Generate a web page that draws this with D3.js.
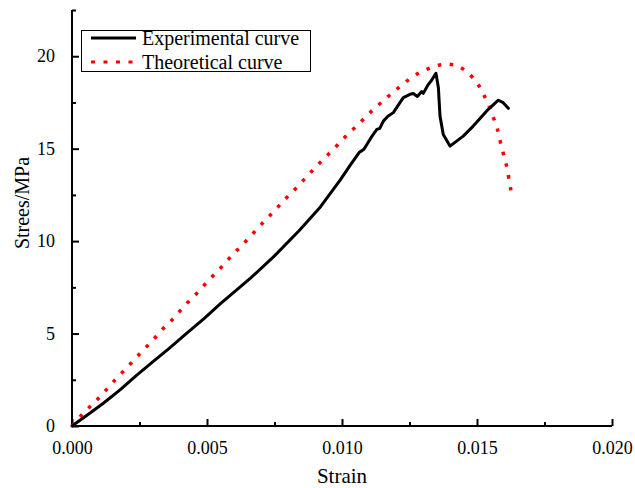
<!DOCTYPE html>
<html>
<head>
<meta charset="utf-8">
<script src="https://cdn.jsdelivr.net/npm/d3@7"></script>
<style>
  html, body { margin: 0; padding: 0; background: #fff; }
  svg { display: block; }
</style>
</head>
<body>
<svg id="chart" width="635" height="488"></svg>
<script>
// Measured stress–strain response of the specimen
const expStrain = [0, 0.00067, 0.00116, 0.00178, 0.00240, 0.00300, 0.00360, 0.00420, 0.00490,
  0.00550, 0.00660, 0.00750, 0.00840, 0.00920, 0.00993, 0.01030, 0.01064, 0.01080, 0.01091,
  0.01110, 0.01129, 0.01140, 0.01153, 0.01170, 0.01190, 0.01227, 0.01252, 0.01264, 0.01279,
  0.01295, 0.01301, 0.01320, 0.01332, 0.01348, 0.01357, 0.01363, 0.01375, 0.01400, 0.01449,
  0.01486, 0.01536, 0.01579, 0.01597, 0.01616];
const expStress = [0, 0.70, 1.23, 1.95, 2.75, 3.48, 4.20, 4.95, 5.82,
  6.62, 7.98, 9.20, 10.55, 11.85, 13.30, 14.10, 14.80, 14.95, 15.20,
  15.65, 16.04, 16.10, 16.49, 16.75, 16.95, 17.76, 17.94, 17.98, 17.82,
  18.09, 17.99, 18.48, 18.70, 19.08, 18.30, 16.76, 15.77, 15.14, 15.68,
  16.22, 17.04, 17.62, 17.49, 17.18];

// Constitutive model prediction
const thStrain = [0, 0.00036, 0.00069, 0.00104, 0.00136, 0.00169, 0.00203, 0.00237, 0.00271,
  0.00303, 0.00333, 0.00366, 0.00395, 0.00423, 0.00453, 0.00481, 0.00507, 0.00536, 0.00564,
  0.00595, 0.00629, 0.00653, 0.00679, 0.00707, 0.00734, 0.00760, 0.00785, 0.00814, 0.00842,
  0.00881, 0.00908, 0.00934, 0.00960, 0.00984, 0.01012, 0.01042, 0.01063, 0.01089, 0.01114,
  0.01138, 0.01166, 0.01193, 0.01219, 0.01248, 0.01286, 0.01316, 0.01347, 0.01389, 0.01431,
  0.01459, 0.01484, 0.01506, 0.01523, 0.01536, 0.01551, 0.01563, 0.01575, 0.01585, 0.01595,
  0.01606, 0.01614, 0.01620, 0.01627];
const thStress = [0, 0.60, 1.08, 1.59, 2.11, 2.64, 3.14, 3.69, 4.21,
  4.70, 5.20, 5.67, 6.14, 6.60, 7.03, 7.48, 7.89, 8.33, 8.76,
  9.27, 9.76, 10.14, 10.55, 10.99, 11.40, 11.80, 12.20, 12.63, 13.05,
  13.67, 14.09, 14.47, 14.85, 15.21, 15.64, 16.06, 16.35, 16.73, 17.09,
  17.40, 17.76, 18.10, 18.41, 18.74, 19.10, 19.30, 19.47, 19.57, 19.44,
  19.20, 18.85, 18.43, 17.98, 17.58, 17.07, 16.59, 16.10, 15.46, 14.87,
  14.29, 13.75, 13.19, 12.67];

const xMajorTicks = [0, 0.005, 0.010, 0.015, 0.020];
const xMinorTicks = [0.0025, 0.0075, 0.0125, 0.0175];
const yMajorTicks = [0, 5, 10, 15, 20];
const yMinorTicks = [2.5, 7.5, 12.5, 17.5, 22.5];

const seriesNames = ["Experimental curve", "Theoretical curve"];

const FONT = '"Liberation Serif", Tinos, "Times New Roman", Times, "Noto Serif", FreeSerif, "Nimbus Roman", "DejaVu Serif", serif';

const svg = d3.select("#chart");
const margin = { left: 72, right: 23, top: 10, bottom: 62 };
const W = 635, H = 488;

const x = d3.scaleLinear().domain([0, 0.020]).range([margin.left, W - margin.right]);
const y = d3.scaleLinear().domain([0, 22.5]).range([H - margin.bottom, margin.top]);

// Axes with inward ticks
const xAxis = svg.append("g").attr("transform", `translate(0,${y(0)})`);
xAxis.call(d3.axisBottom(x).tickValues(xMajorTicks).tickSize(-7).tickPadding(15)
  .tickFormat(d3.format(".3f")));
xAxis.append("g").call(d3.axisBottom(x).tickValues(xMinorTicks).tickSize(-4).tickFormat(""))
  .select(".domain").remove();

const yAxis = svg.append("g").attr("transform", `translate(${x(0)},0)`);
yAxis.call(d3.axisLeft(y).tickValues(yMajorTicks).tickSize(-7).tickPadding(17)
  .tickFormat(d3.format("d")));
yAxis.append("g").call(d3.axisLeft(y).tickValues(yMinorTicks).tickSize(-4).tickFormat(""))
  .select(".domain").remove();

svg.selectAll("g").attr("font-family", FONT);
svg.selectAll(".domain").attr("stroke", "#000").attr("stroke-width", 2);
svg.selectAll(".tick line").attr("stroke", "#000").attr("stroke-width", 2);
svg.selectAll(".tick text")
  .attr("font-family", FONT)
  .attr("font-size", 18).attr("fill", "#000");
xAxis.select(".domain").attr("d", `M${x(0)},0H${x(0.020)}`);
yAxis.select(".domain").attr("d", `M0,${y(0)}V${y(22.5)}`);

// Axis titles
svg.append("text")
  .attr("x", x(0.01)).attr("y", 483)
  .attr("text-anchor", "middle")
  .attr("font-family", FONT).attr("font-size", 21)
  .text("Strain");
svg.append("text")
  .attr("transform", `translate(29,203) rotate(-90)`)
  .attr("text-anchor", "middle")
  .attr("font-family", FONT).attr("font-size", 20)
  .text("Strees/MPa");

// Curves
const expData = expStrain.map((d, i) => [d, expStress[i]]);
const thData = thStrain.map((d, i) => [d, thStress[i]]);

const line = d3.line().x(d => x(d[0])).y(d => y(d[1]));

svg.append("path")
  .datum(thData)
  .attr("fill", "none")
  .attr("stroke", "#ff0000")
  .attr("stroke-width", 3.5)
  .attr("stroke-dasharray", "3.5,8.5")
  .attr("d", d3.line().x(d => x(d[0])).y(d => y(d[1])).curve(d3.curveMonotoneX));

svg.append("path")
  .datum(expData)
  .attr("fill", "none")
  .attr("stroke", "#000")
  .attr("stroke-width", 3)
  .attr("stroke-linejoin", "round")
  .attr("stroke-linecap", "round")
  .attr("d", line);

// Legend
const legend = svg.append("g");
legend.append("rect")
  .attr("x", 81.5).attr("y", 30.5).attr("width", 229).attr("height", 41)
  .attr("fill", "#fff").attr("stroke", "#000").attr("stroke-width", 1);
const legendRows = [
  { name: seriesNames[0], y: 38, color: "#000", dash: null },
  { name: seriesNames[1], y: 62, color: "#ff0000", dash: "4,8.5" }
];
legendRows.forEach(r => {
  const ln = legend.append("line")
    .attr("x1", 91).attr("x2", 136).attr("y1", r.y).attr("y2", r.y)
    .attr("stroke", r.color).attr("stroke-width", 3);
  if (r.dash) ln.attr("stroke-dasharray", r.dash);
  legend.append("text")
    .attr("x", 142).attr("y", r.y + 7)
    .attr("font-family", FONT).attr("font-size", 20)
    .text(r.name);
});
</script>
</body>
</html>
